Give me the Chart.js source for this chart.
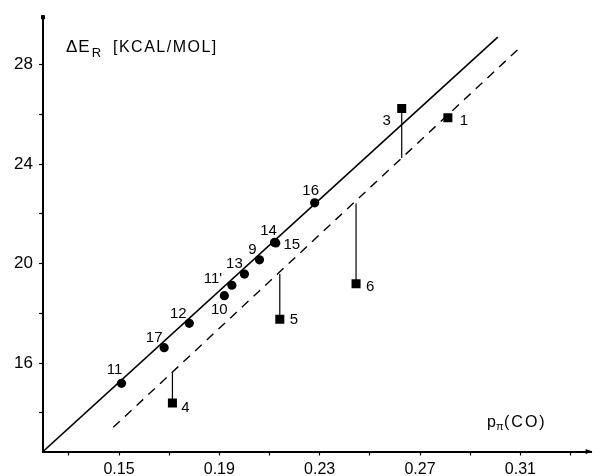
<!DOCTYPE html>
<html>
<head>
<meta charset="utf-8">
<script src="https://cdn.jsdelivr.net/npm/chart.js@4/dist/chart.umd.min.js"></script>
<style>
  body { margin: 0; background: #fff; }
  #wrap { width: 598px; height: 476px; position: relative; }
</style>
</head>
<body>
<div id="wrap"><canvas id="myChart"></canvas></div>
<script>
// filled circles (numbered complexes)
const circleLabels = ['11', '17', '12', '10', "11'", '13', '9', '14', '15', '16'];
const circleX = [0.151, 0.168, 0.178, 0.192, 0.195, 0.200, 0.206, 0.212, 0.2125, 0.228];
const circleY = [15.19, 16.62, 17.60, 18.71, 19.13, 19.58, 20.15, 20.85, 20.83, 22.44];

// filled squares and where their drop lines meet the dashed line
const squareLabels = ['3', '1', '6', '5', '4'];
const squareX = [0.2627, 0.2811, 0.2445, 0.2141, 0.1713];
const squareY = [26.23, 25.86, 19.19, 17.76, 14.40];
const squareLineTo = [24.24, null, 22.41, 19.58, 15.62];

// solid and dashed lines (end points)
const fitX = [0.1197, 0.301];
const fitY = [12.45, 29.1];
const shiftX = [0.1477, 0.309];
const shiftY = [13.42, 28.6];

// axis ticks
const xTicks = [0.13, 0.15, 0.17, 0.19, 0.21, 0.23, 0.25, 0.27, 0.29, 0.31, 0.33];
const xTickLabels = ['0.15', '0.19', '0.23', '0.27', '0.31'];
const yTicks = [14, 16, 18, 20, 22, 24, 26, 28];
const yTickLabels = ['16', '20', '24', '28'];

// label offsets (style only)
const circleOffsets = [[-7, -13], [-10, -10], [-11, -9], [-5, 14], [-19, -6], [-10, -10], [-7, -10], [-6, -12], [16, 2], [-4, -12]];
const squareOffsets = [[-15, 12], [16, 3], [14, 3], [14, 1], [13, 5]];

const FONT = '"Liberation Sans", Arial, sans-serif';

function pts(xs, ys) {
    return xs.map((x, i) => ({ x: x, y: ys[i] }));
}

var datasets = [];
datasets.push({
    type: 'line', data: pts(fitX, fitY), borderColor: '#000', borderWidth: 1.6,
    pointRadius: 0, fill: false
});
datasets.push({
    type: 'line', data: pts(shiftX, shiftY), borderColor: '#000', borderWidth: 1.4,
    borderDash: [9, 7], pointRadius: 0, fill: false
});
for (var i = 0; i < squareX.length; i++) {
    if (squareLineTo[i] == null) continue;
    datasets.push({
        type: 'line',
        data: [{ x: squareX[i], y: squareY[i] }, { x: squareX[i], y: squareLineTo[i] }],
        borderColor: '#000', borderWidth: 1.2, pointRadius: 0, fill: false
    });
}
datasets.push({
    type: 'scatter', data: pts(circleX, circleY), labels: circleLabels, offsets: circleOffsets,
    pointStyle: 'circle', pointRadius: 4.6, backgroundColor: '#000', borderColor: '#000', borderWidth: 0
});
datasets.push({
    type: 'scatter', data: pts(squareX, squareY), labels: squareLabels, offsets: squareOffsets,
    pointStyle: 'rect', pointRadius: 6.4, backgroundColor: '#000', borderColor: '#000', borderWidth: 0
});

const textPlugin = {
    id: 'textPlugin',
    afterDatasetsDraw(chart) {
        const ctx = chart.ctx;
        ctx.save();
        ctx.fillStyle = '#000';
        ctx.textAlign = 'center';
        ctx.textBaseline = 'middle';
        ctx.font = '15px ' + FONT;
        chart.data.datasets.forEach((ds, di) => {
            if (!ds.labels) return;
            const meta = chart.getDatasetMeta(di);
            meta.data.forEach((el, j) => {
                const off = ds.offsets[j];
                ctx.fillText(ds.labels[j], el.x + off[0], el.y + off[1]);
            });
        });

        // y axis title
        ctx.textAlign = 'left';
        ctx.textBaseline = 'alphabetic';
        ctx.font = '17px ' + FONT;
        ctx.letterSpacing = '1px';
        ctx.fillText('\u0394E', 66, 52);
        var w = ctx.measureText('\u0394E').width;
        ctx.font = '13px ' + FONT;
        ctx.fillText('R', 66 + w + 1, 57);
        ctx.font = '16px ' + FONT;
        ctx.letterSpacing = '1.5px';
        ctx.fillText('[KCAL/MOL]', 113, 52);

        // x axis title
        ctx.letterSpacing = '0px';
        ctx.font = '16px ' + FONT;
        ctx.fillText('p', 487, 427);
        ctx.font = '11px ' + FONT;
        ctx.fillText('\u03c0', 496, 430);
        ctx.font = '16px ' + FONT;
        ctx.letterSpacing = '2px';
        ctx.fillText('(CO)', 504, 427);

        // axis arrow ends
        const a = chart.chartArea;
        ctx.beginPath();
        ctx.moveTo(a.right + 1, a.bottom);
        ctx.lineTo(a.right - 6, a.bottom - 2.5);
        ctx.lineTo(a.right - 6, a.bottom + 2.5);
        ctx.closePath();
        ctx.fill();
        ctx.fillRect(a.left - 2, a.top - 1, 4, 4);
        ctx.restore();
    }
};

const ctx = document.getElementById('myChart');
new Chart(ctx, {
    data: { datasets: datasets },
    plugins: [textPlugin],
    options: {
        responsive: true,
        maintainAspectRatio: false,
        animation: false,
        layout: { padding: { top: 13, right: 1, left: 0, bottom: 0 } },
        plugins: { legend: { display: false }, tooltip: { enabled: false } },
        scales: {
            x: {
                type: 'linear',
                min: 0.1197,
                max: 0.3384,
                afterFit: s => { s.height = 24.5; },
                afterBuildTicks: axis => { axis.ticks = xTicks.map(v => ({ value: v })); },
                grid: { display: true, drawOnChartArea: false, drawTicks: true, tickLength: 4, tickColor: '#000', tickWidth: 1.2 },
                border: { display: true, color: '#000', width: 2 },
                ticks: {
                    color: '#000', padding: 4, maxRotation: 0, autoSkip: false,
                    font: { family: FONT, size: 16 },
                    callback: v => {
                        var s = v.toFixed(2);
                        return xTickLabels.includes(s) ? s : '';
                    }
                }
            },
            y: {
                type: 'linear',
                min: 12.45,
                max: 29.94,
                afterFit: s => { s.width = 43; },
                afterBuildTicks: axis => { axis.ticks = yTicks.map(v => ({ value: v })); },
                grid: { display: true, drawOnChartArea: false, drawTicks: true, tickLength: 4, tickColor: '#000', tickWidth: 1.2 },
                border: { display: true, color: '#000', width: 2 },
                ticks: {
                    color: '#000', padding: 6, autoSkip: false,
                    font: { family: FONT, size: 17 },
                    callback: v => {
                        var s = String(v);
                        return yTickLabels.includes(s) ? s : '';
                    }
                }
            }
        }
    }
});
</script>
</body>
</html>
